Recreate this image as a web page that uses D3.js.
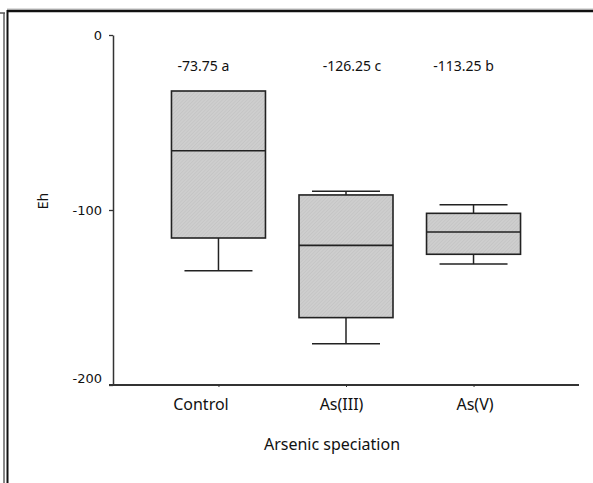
<!DOCTYPE html>
<html>
<head>
<meta charset="utf-8">
<script src="https://d3js.org/d3.v7.min.js"></script>
<style>
  body { margin: 0; background: #fff; }
  svg { display: block; }
</style>
</head>
<body>
<div id="chart"></div>
<script>
// box plot values (Eh, mV)
var groups = ["Control", "As(III)", "As(V)"];
var whiskerHigh = [-32, -89.3, -97];
var q3 = [-32, -91.4, -101.9];
var median = [-66.1, -120.2, -112.6];
var q1 = [-116, -161.5, -125.3];
var whiskerLow = [-134.7, -176.4, -130.9];
var meanLabels = ["-73.75 a", "-126.25 c", "-113.25 b"];
var yTicks = [0, -100, -200];

// small nudges so labels sit where the original put them
var labelShift = [-15, 6, -10];
var tickLabelShift = [-18, -5, 1];

var width = 593, height = 483;
var svg = d3.select("#chart").append("svg")
    .attr("width", width)
    .attr("height", height);

// hatched grey fill for the boxes
var pat = svg.append("defs").append("pattern")
    .attr("id", "hatch")
    .attr("patternUnits", "userSpaceOnUse")
    .attr("width", 2.5).attr("height", 2.5)
    .attr("patternTransform", "rotate(45)");
pat.append("rect").attr("width", 2.5).attr("height", 2.5).attr("fill", "#cecece");
pat.append("line").attr("x1", 0).attr("y1", 0).attr("x2", 0).attr("y2", 2.5)
    .attr("stroke", "#bfbfbf").attr("stroke-width", 1);

// frame lines around the page
svg.append("line").attr("x1", 7).attr("x2", width).attr("y1", 9).attr("y2", 9)
    .attr("stroke", "#bbb").attr("stroke-width", 1);
svg.append("line").attr("x1", 7).attr("x2", width).attr("y1", 11).attr("y2", 11)
    .attr("stroke", "#111").attr("stroke-width", 2.5);
svg.append("line").attr("x1", 7.5).attr("x2", 7.5).attr("y1", 10).attr("y2", height)
    .attr("stroke", "#111").attr("stroke-width", 2);
svg.append("line").attr("x1", 4).attr("x2", 4).attr("y1", 13).attr("y2", height)
    .attr("stroke", "#888").attr("stroke-width", 2);
svg.append("line").attr("x1", 0).attr("x2", 5).attr("y1", 13).attr("y2", 13)
    .attr("stroke", "#555").attr("stroke-width", 1.5);

var x = d3.scalePoint().domain(groups).range([113, 579]).padding(0.827);
var y = d3.scaleLinear().domain([-200, 0]).range([385, 35]);

var boxW = 94, capW = 68;

// y axis
var yAxis = svg.append("g").attr("transform", "translate(113,0)")
    .call(d3.axisLeft(y).tickValues(yTicks).tickFormat(function(d) { return String(d); })
        .tickSize(4).tickSizeOuter(0).tickPadding(7));
yAxis.select(".domain").attr("stroke", "#333").attr("stroke-width", 1.5);
yAxis.selectAll(".tick line").attr("stroke", "#333").attr("stroke-width", 1.3);
yAxis.selectAll(".tick text")
    .attr("font-family", "DejaVu Sans, sans-serif").attr("font-size", 13).attr("fill", "#111")
    .attr("dy", function(d) { return d === -200 ? "-0.2em" : "0.32em"; });

// x axis
var xAxis = svg.append("g").attr("transform", "translate(0,385)")
    .call(d3.axisBottom(x).tickSize(2).tickSizeOuter(0).tickPadding(12));
xAxis.select(".domain").attr("stroke", "#333").attr("stroke-width", 1.8)
    .attr("d", "M109,0H579");
xAxis.selectAll(".tick line").attr("stroke", "#333");
xAxis.selectAll(".tick text")
    .attr("font-family", "Noto Sans, sans-serif").attr("font-size", 16).attr("fill", "#111")
    .attr("dx", function(d, i) { return tickLabelShift[i]; });

svg.append("text")
    .attr("x", 332).attr("y", 450)
    .attr("text-anchor", "middle")
    .attr("font-family", "Noto Sans, sans-serif").attr("font-size", 16).attr("fill", "#111")
    .text("Arsenic speciation");

svg.append("text")
    .attr("transform", "translate(48,201) rotate(-90)")
    .attr("text-anchor", "middle")
    .attr("font-family", "Noto Sans, sans-serif").attr("font-size", 14).attr("fill", "#111")
    .text("Eh");

// boxes
var box = svg.selectAll("g.box").data(groups).enter().append("g").attr("class", "box");

box.append("line")
    .attr("x1", function(d) { return x(d); }).attr("x2", function(d) { return x(d); })
    .attr("y1", function(d, i) { return y(whiskerHigh[i]); })
    .attr("y2", function(d, i) { return y(q3[i]); })
    .attr("stroke", "#222").attr("stroke-width", 1.5);
box.append("line")
    .attr("x1", function(d) { return x(d); }).attr("x2", function(d) { return x(d); })
    .attr("y1", function(d, i) { return y(q1[i]); })
    .attr("y2", function(d, i) { return y(whiskerLow[i]); })
    .attr("stroke", "#222").attr("stroke-width", 1.5);
box.filter(function(d, i) { return whiskerHigh[i] !== q3[i]; }).append("line")
    .attr("x1", function(d) { return x(d) - capW / 2; }).attr("x2", function(d) { return x(d) + capW / 2; })
    .attr("y1", function(d) { return y(whiskerHigh[groups.indexOf(d)]); })
    .attr("y2", function(d) { return y(whiskerHigh[groups.indexOf(d)]); })
    .attr("stroke", "#222").attr("stroke-width", 1.5);
box.append("line")
    .attr("x1", function(d) { return x(d) - capW / 2; }).attr("x2", function(d) { return x(d) + capW / 2; })
    .attr("y1", function(d, i) { return y(whiskerLow[i]); })
    .attr("y2", function(d, i) { return y(whiskerLow[i]); })
    .attr("stroke", "#222").attr("stroke-width", 1.5);

box.append("rect")
    .attr("x", function(d) { return x(d) - boxW / 2; })
    .attr("width", boxW)
    .attr("y", function(d, i) { return y(q3[i]); })
    .attr("height", function(d, i) { return y(q1[i]) - y(q3[i]); })
    .attr("fill", "url(#hatch)")
    .attr("stroke", "#222").attr("stroke-width", 1.6);

box.append("line")
    .attr("x1", function(d) { return x(d) - boxW / 2; }).attr("x2", function(d) { return x(d) + boxW / 2; })
    .attr("y1", function(d, i) { return y(median[i]); })
    .attr("y2", function(d, i) { return y(median[i]); })
    .attr("stroke", "#222").attr("stroke-width", 1.6);

// mean + letter annotations
svg.selectAll("text.mean").data(meanLabels).enter().append("text")
    .attr("class", "mean")
    .attr("x", function(d, i) { return x(groups[i]) + labelShift[i]; })
    .attr("y", 70.5)
    .attr("text-anchor", "middle")
    .attr("font-family", "Noto Sans, sans-serif").attr("font-size", 14).attr("fill", "#111")
    .text(function(d) { return d; });
</script>
</body>
</html>
